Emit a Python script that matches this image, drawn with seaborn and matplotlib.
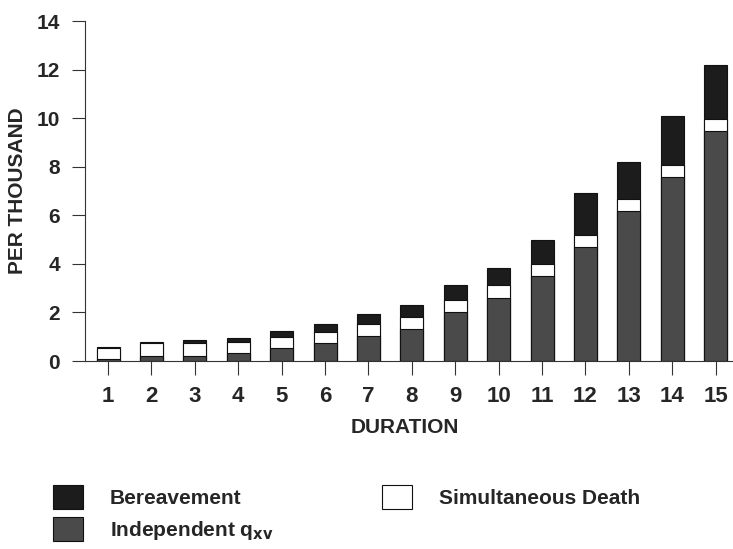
import matplotlib
matplotlib.use('Agg')
from matplotlib import pyplot as plt
import numpy as np
import pandas as pd
import seaborn as sns

# values (per thousand)
durations = [str(d) for d in range(1, 16)]
independent = [0.08, 0.22, 0.22, 0.34, 0.52, 0.75, 1.02, 1.33, 2.02, 2.61, 3.51, 4.71, 6.19, 7.58, 9.47]
simultaneous = [0.45, 0.52, 0.52, 0.45, 0.45, 0.45, 0.50, 0.49, 0.48, 0.50, 0.49, 0.48, 0.48, 0.49, 0.48]
bereavement = [0.03, 0.06, 0.12, 0.14, 0.26, 0.34, 0.41, 0.50, 0.61, 0.74, 1.00, 1.71, 1.53, 2.00, 2.22]
y_ticks = [0, 2, 4, 6, 8, 10, 12, 14]

df = pd.DataFrame({'duration': durations,
                   'indep': independent,
                   'simult': simultaneous,
                   'bereav': bereavement})
df['lower_two'] = df['indep'] + df['simult']
df['total'] = df['lower_two'] + df['bereav']

sns.set_theme(style='ticks')
plt.rcParams['font.family'] = ['Liberation Sans', 'DejaVu Sans']
plt.rcParams['font.weight'] = 'bold'
plt.rcParams['mathtext.default'] = 'regular'

fig = plt.figure(figsize=(7.33, 5.49), dpi=100)
ax = fig.add_axes([0.116, 0.3424, 0.884, 0.6193])

bw = 0.53
common = dict(x='duration', order=durations, width=bw, saturation=1,
              edgecolor='#111111', linewidth=0.8, ax=ax)
# stacked by overdrawing cumulative totals
sns.barplot(data=df, y='total', color='#1c1c1c', label='Bereavement', **common)
sns.barplot(data=df, y='lower_two', color='white', label='Simultaneous Death', **common)
sns.barplot(data=df, y='indep', color='#4a4a4a', label=r'Independent q$_{\mathbf{xv}}$', **common)

ax.set_xlim(-0.53, 14.4)
ax.set_ylim(0, 14)
ax.set_yticks(y_ticks)
sns.despine(ax=ax)
for s in ['left', 'bottom']:
    ax.spines[s].set_color('#333333')
    ax.spines[s].set_linewidth(0.8)

ax.tick_params(axis='y', length=9.4, width=0.8, pad=8.6, labelsize=15, color='#333333')
ax.tick_params(axis='x', length=10, width=0.8, pad=8, labelsize=16, color='#333333')

ax.set_xlabel('DURATION', fontsize=15, fontweight='bold')
ax.set_ylabel('PER THOUSAND', fontsize=15, fontweight='bold')
ax.xaxis.set_label_coords(0.494, -0.168)
ax.yaxis.set_label_coords(-0.0895, 0.5)

handles, labels = ax.get_legend_handles_labels()
order = [labels.index('Bereavement'), labels.index(r'Independent q$_{\mathbf{xv}}$'),
         labels.index('Simultaneous Death')]
ax.legend([handles[i] for i in order], [labels[i] for i in order],
          ncol=2, frameon=False, prop={'size': 15, 'weight': 'bold'},
          loc='upper left', bbox_to_anchor=(0.0723, 0.1166),
          bbox_transform=fig.transFigure, borderpad=0, borderaxespad=0,
          handlelength=1.44, handleheight=1.39, handletextpad=1.3,
          labelspacing=0.38, columnspacing=5.2)

fig.savefig('out.png', dpi=100)
